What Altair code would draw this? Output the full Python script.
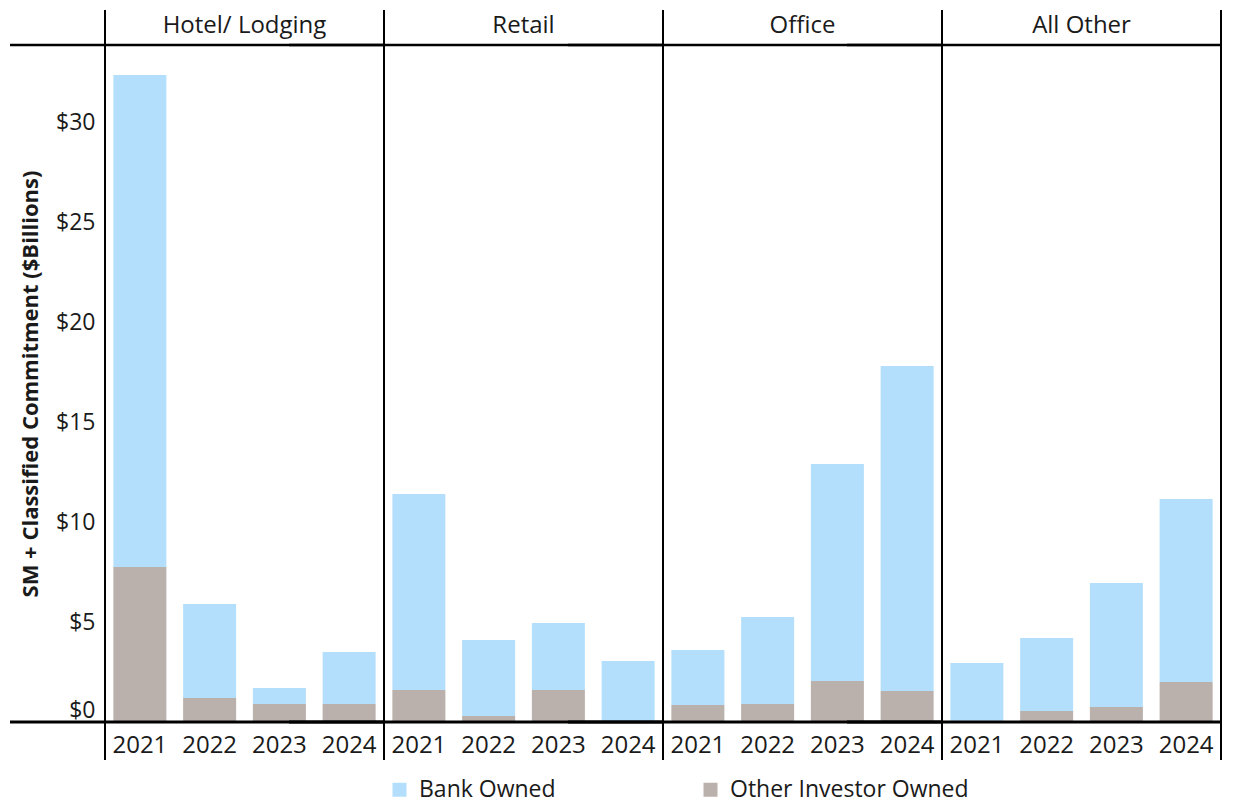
import altair as alt
import pandas as pd

categories = ["Hotel/ Lodging", "Retail", "Office", "All Other"]
years = ["2021", "2022", "2023", "2024"]
owners = ["Bank Owned", "Other Investor Owned"]

# Bank owned portion ($B) per category, years 2021-2024
hotel_bank = [24.6, 4.7, 0.8, 2.6]
retail_bank = [9.8, 3.8, 3.35, 3.05]
office_bank = [2.75, 4.35, 10.85, 16.25]
other_bank = [2.95, 3.65, 6.2, 9.15]

# Other investor owned portion ($B)
hotel_inv = [7.75, 1.2, 0.9, 0.9]
retail_inv = [1.6, 0.3, 1.6, 0.0]
office_inv = [0.85, 0.9, 2.05, 1.55]
other_inv = [0.0, 0.55, 0.75, 2.0]

bank = [hotel_bank, retail_bank, office_bank, other_bank]
inv = [hotel_inv, retail_inv, office_inv, other_inv]

rows = []
for ci, cat in enumerate(categories):
    for yi, yr in enumerate(years):
        rows.append({"category": cat, "year": yr, "owner": owners[1], "value": inv[ci][yi], "stk": 0})
        rows.append({"category": cat, "year": yr, "owner": owners[0], "value": bank[ci][yi], "stk": 1})
df = pd.DataFrame(rows)

FONT = "Open Sans"
TXT = "#1a1a1a"
W, H = 279, 677
BLUE = "#B4DFFC"
GRAY = "#BAB0AC"

base = alt.Chart()

bars = base.mark_bar().encode(
    x=alt.X("year:N", sort=years, title=None,
            scale=alt.Scale(paddingInner=0.24, paddingOuter=0.12),
            axis=alt.Axis(labelAngle=0, ticks=False, domain=False, labelFontSize=24,
                          labelPadding=11, labelColor=TXT, labelFont=FONT)),
    y=alt.Y("value:Q", stack="zero", title="SM + Classified Commitment ($Billions)",
            scale=alt.Scale(domain=[0, 33.85], nice=False, zero=True),
            axis=alt.Axis(values=[0, 5, 10, 15, 20, 25, 30], format="$.0f", grid=False,
                          ticks=False, domain=False, labelFontSize=23, labelPadding=10,
                          labelColor=TXT, labelFont=FONT,
                          labelBaseline={"condition": {"test": "datum.value == 0", "value": "bottom"}, "value": "middle"},
                          titleFontSize=22, titleFontWeight="bold", titleColor=TXT,
                          titleFont=FONT, titlePadding=13)),
    color=alt.Color("owner:N", scale=alt.Scale(domain=owners, range=[BLUE, GRAY]),
                    legend=alt.Legend(title=None, orient="none", direction="horizontal",
                                      legendX=283, legendY=733, columnPadding=143,
                                      symbolType="square", symbolSize=196,
                                      symbolStrokeWidth=0, labelFontSize=23, labelLimit=500,
                                      labelFont=FONT, labelColor=TXT, labelOffset=8)),
    order=alt.Order("stk:Q"),
)

one = base.transform_filter("datum.year == '2021' && datum.stk == 0")

left_rule = one.mark_rule(color="black", strokeWidth=2).encode(
    x=alt.value(0), y=alt.value(-35), y2=alt.value(H + 38))
right_rule = one.mark_rule(color="black", strokeWidth=2).encode(
    x=alt.value(W), y=alt.value(-35), y2=alt.value(H + 38))
top_rule = one.mark_rule(color="black", strokeWidth=2.5).encode(
    y=alt.value(0), x=alt.value(-95), x2=alt.value(W))
bottom_rule = one.mark_rule(color="black", strokeWidth=3).encode(
    y=alt.value(H), x=alt.value(-95), x2=alt.value(W))

layer = alt.layer(bars, left_rule, right_rule, top_rule, bottom_rule).properties(width=W, height=H)

chart = layer.facet(
    data=df,
    column=alt.Column("category:N", sort=categories, title=None,
                      header=alt.Header(labelOrient="top", labelFontSize=24, labelPadding=7,
                                        labelColor=TXT, labelFont=FONT)),
    spacing=0,
).properties(
    bounds="flush",
    padding={"left": 0, "top": 0, "right": 5, "bottom": 5},
).configure_view(stroke=None).configure(font=FONT)

chart.save("out.html", embed_options={"renderer": "svg", "actions": False})
